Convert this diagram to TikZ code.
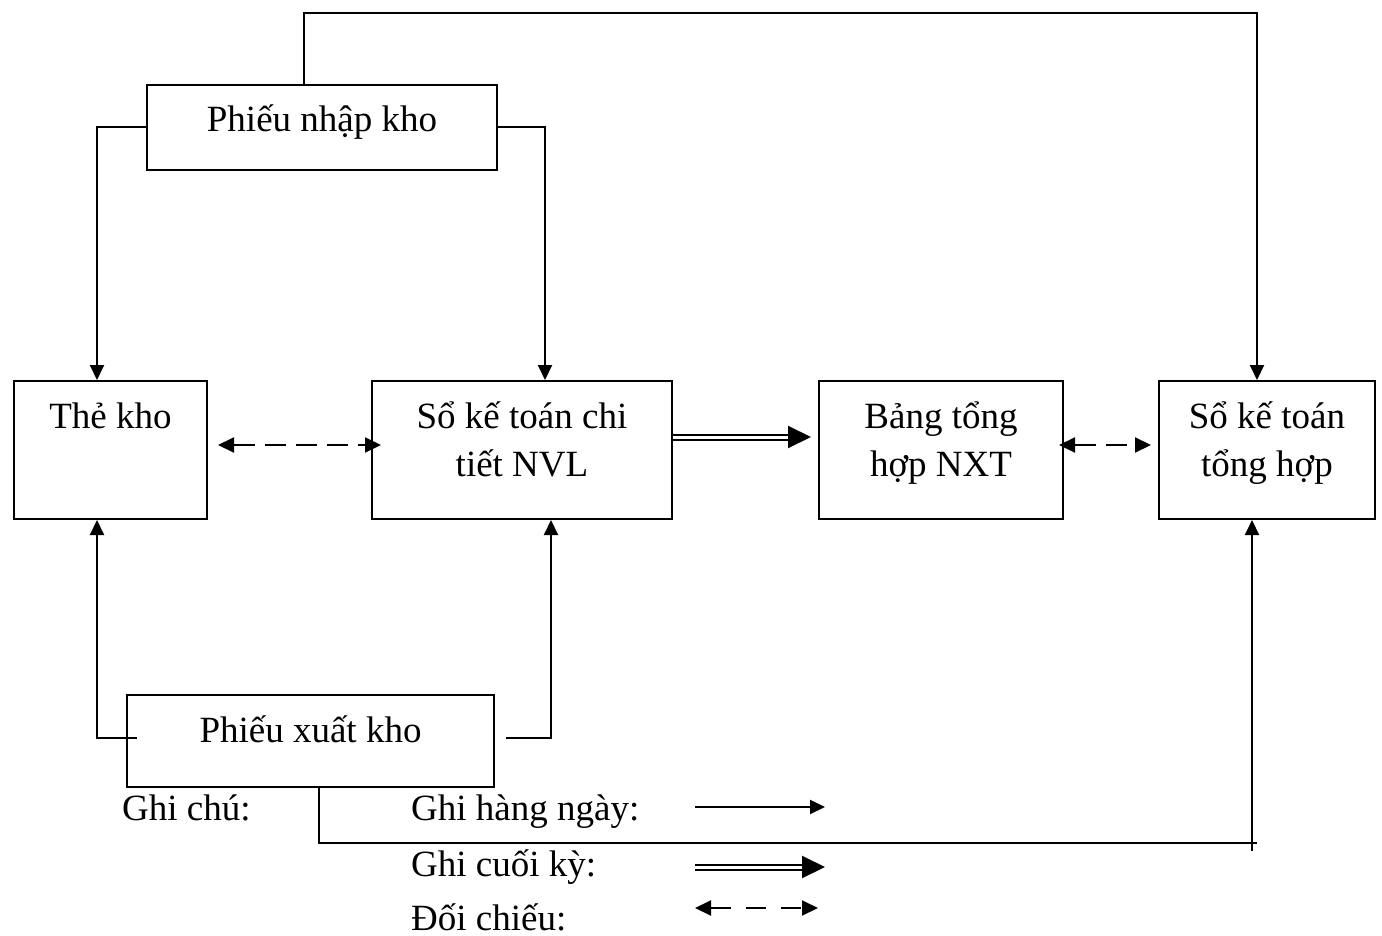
\documentclass[tikz,border=0pt]{standalone}
\usepackage{fontspec}
\setmainfont{Liberation Serif}
\usetikzlibrary{arrows.meta}
\begin{document}
\begin{tikzpicture}[x=1pt,y=-1pt,
  every node/.style={font=\fontsize{37}{48}\selectfont},
  % box: #1 = width, #2 = room below the first baseline
  box/.style 2 args={draw, line width=2pt, inner sep=0pt, align=flush center,
    text width=#1, text height=47pt, text depth=#2},
  link/.style={line width=2pt},
  arr/.style={line width=2pt, -{Triangle[length=15pt,width=14pt]}},
  dasharr/.style={line width=2pt, dash pattern=on 21pt off 10pt,
    {Triangle[length=16pt,width=15pt]}-{Triangle[length=16pt,width=15pt]}},
  dblarr/.style={line width=2pt, double distance=3pt,
    -{Triangle[length=23pt,width=22pt]}},
  legend/.style={anchor=base west, inner sep=0pt}]
\useasboundingbox (0,0) rectangle (1382,936);

% documents and ledgers
\node[box={350pt}{38pt}]  (pn)  at (322,127.5) {Phiếu nhập kho};
\node[box={193pt}{91pt}]  (tk)  at (110.5,450) {Thẻ kho};
\node[box={300pt}{91pt}]  (sct) at (522,450)   {Sổ kế toán chi\\tiết NVL};
\node[box={244pt}{91pt}]  (bth) at (941,450)   {Bảng tổng\\hợp NXT};
\node[box={216pt}{91pt}]  (sth) at (1267,450)  {Sổ kế toán\\tổng hợp};
\node[box={367pt}{45pt}]  (px)  at (310.5,741) {Phiếu xuất kho};

% routing helpers
\coordinate (ytop) at (0,13);
\coordinate (jr) at (1257,843);
\coordinate (jb) at (1252,851);

% receipts
\draw[arr] ([xshift=-18pt]pn.north) -- ([xshift=-18pt]pn.north |- ytop)
  -| ([xshift=-10pt]sth.north);
\draw[arr] (pn.west) -| ([xshift=-13.5pt]tk.north);
\draw[arr] (pn.east) -| ([xshift=23pt]sct.north);

% issues
\draw[arr] ([shift={(11pt,3pt)}]px.west) -| ([xshift=-13.5pt]tk.south);
\draw[arr] ([shift={(11pt,3pt)}]px.east) -| ([xshift=29pt]sct.south);
\draw[link] ([xshift=8.5pt]px.south) |- (jr);
\draw[arr] (jb) -- ([xshift=-15pt]sth.south);

% cross-checks and period-end posting
\draw[dasharr] ([shift={(10pt,5pt)}]tk.east) -- ([shift={(10pt,5pt)}]sct.west);
\draw[dblarr] ([yshift=13pt]sct.east) -- ([shift={(-7pt,13pt)}]bth.west);
\draw[dasharr] ([shift={(-5pt,5pt)}]bth.east) -- ([shift={(-7pt,5pt)}]sth.west);

% legend
\node[legend] (gc) at (122,820) {Ghi chú:};
\node[legend] (l1) at (411,820) {Ghi hàng ngày:};
\node[legend] (l2) at (411,876) {Ghi cuối kỳ:};
\node[legend] (l3) at (411,930) {Đối chiếu:};
\coordinate (a1) at (695,807); \coordinate (b1) at (825,807);
\coordinate (a2) at (695,867); \coordinate (b2) at (825,867);
\coordinate (a3) at (695,908); \coordinate (b3) at (818,908);
\draw[arr] (a1) -- (b1);
\draw[dblarr] (a2) -- (b2);
\draw[dasharr, dash pattern=on 20pt off 15pt] (a3) -- (b3);
\end{tikzpicture}
\end{document}
